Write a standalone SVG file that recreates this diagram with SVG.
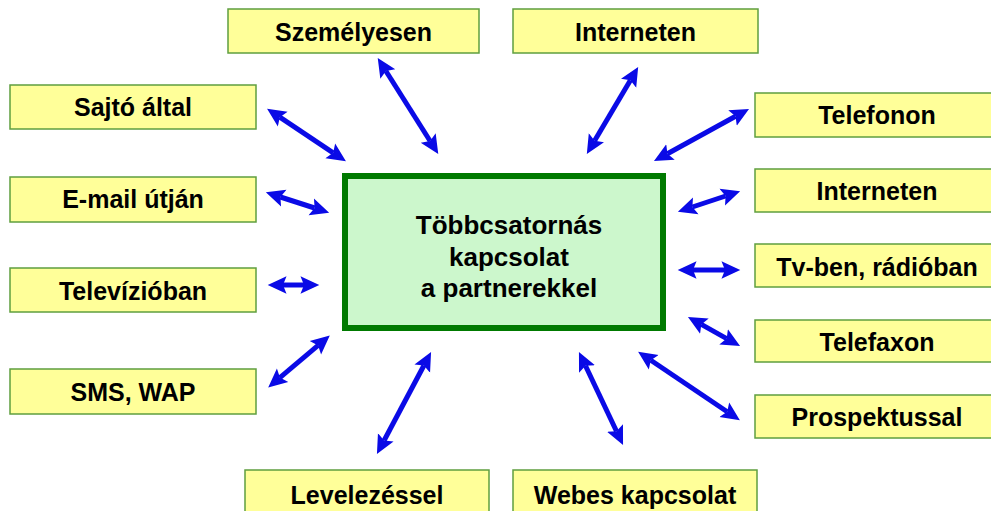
<svg xmlns="http://www.w3.org/2000/svg" width="991" height="511" viewBox="0 0 991 511">
<style>
.box{fill:#ffff99;stroke:#5f9f3f;stroke-width:1.5}
.lbl{font-family:"Liberation Sans",Arial,sans-serif;font-weight:bold;font-size:25px;fill:#000;text-anchor:middle}
.ctr{font-family:"Liberation Sans",Arial,sans-serif;font-weight:bold;font-size:26px;fill:#000;text-anchor:middle}
.arr{stroke:#0a0ae6;stroke-width:5;fill:none;marker-start:url(#ah);marker-end:url(#ah)}
</style>
<defs>
<marker id="ah" markerUnits="userSpaceOnUse" markerWidth="20" markerHeight="20" viewBox="0 -8 17 16" refX="3" refY="0" orient="auto-start-reverse">
<path d="M0,-7.5 L16,0 L0,7.5 L3,0 Z" fill="#0a0ae6"/>
</marker>
</defs>
<rect width="991" height="511" fill="#ffffff"/>
<g id="center">
<rect x="345" y="176" width="318" height="152" fill="#ccf7cc" stroke="#007a00" stroke-width="6"/>
<text class="ctr" x="509" y="234">Többcsatornás</text>
<text class="ctr" x="509" y="265.5">kapcsolat</text>
<text class="ctr" x="509" y="297"> a partnerekkel</text>
</g>
<g id="szemelyesen"><rect class="box" x="228" y="9" width="251" height="44"/><text class="lbl" x="353.5" y="41">Személyesen</text></g>
<g id="interneten-top"><rect class="box" x="513" y="9" width="245" height="44"/><text class="lbl" x="635.5" y="41">Interneten</text></g>
<g id="sajto"><rect class="box" x="10" y="85" width="246" height="44"/><text class="lbl" x="133" y="116">Sajtó által</text></g>
<g id="email"><rect class="box" x="10" y="177" width="246" height="45"/><text class="lbl" x="133" y="208">E-mail útján</text></g>
<g id="televizio"><rect class="box" x="10" y="268" width="246" height="44"/><text class="lbl" x="133" y="300">Televízióban</text></g>
<g id="sms"><rect class="box" x="10" y="369" width="246" height="45"/><text class="lbl" x="133" y="401">SMS, WAP</text></g>
<g id="telefonon"><rect class="box" x="755" y="93" width="244" height="44"/><text class="lbl" x="877" y="124">Telefonon</text></g>
<g id="interneten-right"><rect class="box" x="755" y="169" width="244" height="43"/><text class="lbl" x="877" y="200">Interneten</text></g>
<g id="tvradio"><rect class="box" x="755" y="244" width="244" height="43"/><text class="lbl" x="877" y="276">Tv-ben, rádióban</text></g>
<g id="telefaxon"><rect class="box" x="755" y="320" width="244" height="42"/><text class="lbl" x="877" y="351">Telefaxon</text></g>
<g id="prospektus"><rect class="box" x="755" y="395" width="244" height="43"/><text class="lbl" x="877" y="426">Prospektussal</text></g>
<g id="levelezes"><rect class="box" x="245" y="470" width="244" height="46"/><text class="lbl" x="367" y="504">Levelezéssel</text></g>
<g id="webes"><rect class="box" x="513" y="470" width="244" height="46"/><text class="lbl" x="635" y="504">Webes kapcsolat</text></g>
<g id="connectors">
<line class="arr" x1="385.9" y1="71" x2="430.1" y2="141"/>
<line class="arr" x1="279.8" y1="117.2" x2="333.2" y2="152.8"/>
<line class="arr" x1="280.4" y1="197" x2="314.6" y2="208"/>
<line class="arr" x1="283" y1="285" x2="304" y2="285"/>
<line class="arr" x1="279.9" y1="377.6" x2="318.1" y2="345.4"/>
<line class="arr" x1="384.1" y1="440.5" x2="423.9" y2="365.5"/>
<line class="arr" x1="585.5" y1="365.8" x2="616.5" y2="431.2"/>
<line class="arr" x1="650.8" y1="360.3" x2="727.2" y2="411.7"/>
<line class="arr" x1="701.3" y1="324.4" x2="726.7" y2="338.6"/>
<line class="arr" x1="693" y1="270" x2="725" y2="270"/>
<line class="arr" x1="692.4" y1="207" x2="725.6" y2="196"/>
<line class="arr" x1="667.4" y1="153.7" x2="735.6" y2="116.3"/>
<line class="arr" x1="594.6" y1="140.8" x2="630.4" y2="80.2"/>
</g>
</svg>
